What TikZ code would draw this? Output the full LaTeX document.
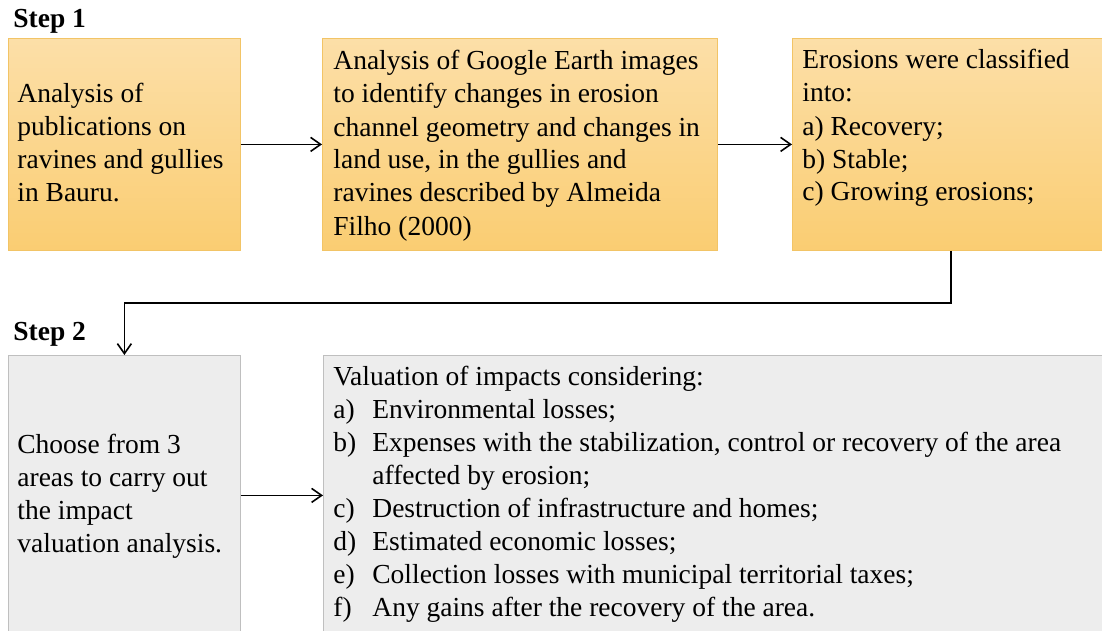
\documentclass[tikz,border=0pt]{standalone}
\usepackage{fontspec}
\setmainfont{Liberation Serif}
\usetikzlibrary{arrows.meta}
\definecolor{gtop}{HTML}{FCDFA8}
\definecolor{gbot}{HTML}{FACD72}
\definecolor{gline}{HTML}{F2C466}
\definecolor{sfill}{HTML}{EDEDED}
\definecolor{sline}{HTML}{BFBFBF}
% lines of a text block, hung from the baseline of the first one
\newcommand{\blk}[1]{\begin{tabular}[t]{@{}l@{}}#1\end{tabular}}
\tikzset{gb/.style  = {draw=gline, top color=gtop, bottom color=gbot, anchor=north west, inner sep=0pt},
         sb/.style  = {draw=sline, fill=sfill, anchor=north west, inner sep=0pt},
         tx/.style  = {anchor=base west, inner sep=0pt, font=\fontsize{13.75}{16.5}\selectfont},
         hd/.style  = {anchor=base west, inner sep=0pt, font=\fontsize{13.75}{16.5}\selectfont\bfseries},
         ln/.style  = {line width=0.8pt}}

\begin{document}
\begin{tikzpicture}[x=0.5pt, y=-0.5pt, >={Straight Barb[length=5pt,width=7pt]}]
    \clip (0,0) rectangle (1102,631);
    \fill[white] (0,0) rectangle (1102,631);
    % step 1
    \node[hd] (s1) at (13,28) {Step 1};
    \node[gb, minimum width=116pt, minimum height=106pt] (b1) at (8,38) {};
    \node[gb, minimum width=197.5pt, minimum height=106pt] (b2) at (322,38) {};
    \node[gb, minimum width=160pt, minimum height=106pt] (b3) at (792,38) {};
    \node[tx] (t1) at (17,103) {\blk{Analysis of\\publications on\\ravines and gullies\\in Bauru.}};
    \node[tx] (t2) at (333,70) {\blk{Analysis of Google Earth images\\to identify changes in erosion\\channel geometry and changes in\\land use, in the gullies and\\ravines described by Almeida\\Filho (2000)}};
    \node[tx] (t3) at (802,69) {\blk{Erosions were classified\\into:\\a) Recovery;\\b) Stable;\\c) Growing erosions;}};
    % step 2
    \node[hd] (s2) at (13,340) {Step 2};
    \node[sb, minimum width=116pt, minimum height=140pt] (b4) at (8,355) {};
    \node[sb, minimum width=392pt, minimum height=140pt] (b5) at (323,355) {};
    \node[tx] (t4) at (17,453) {\blk{Choose from 3\\areas to carry out\\the impact\\valuation analysis.}};
    \node[tx] (t5) at (333,385) {\begin{tabular}[t]{@{}p{16.5pt}@{\hspace{3pt}}l@{}}
      \multicolumn{2}{@{}l@{}}{Valuation of impacts considering:}\\
      a) & Environmental losses;\\
      b) & Expenses with the stabilization, control or recovery of the area\\
         & affected by erosion;\\
      c) & Destruction of infrastructure and homes;\\
      d) & Estimated economic losses;\\
      e) & Collection losses with municipal territorial taxes;\\
      f) & Any gains after the recovery of the area.
    \end{tabular}};
    % connectors
    \coordinate (turn) at (951,303);
    \draw[ln, ->] (b1) -- (b2);
    \draw[ln, ->] (b2) -- (b3);
    \draw[ln, ->] (b3.south -| turn) -- (turn) -| (b4.north);
    \draw[ln, ->] (b4) -- (b5);
\end{tikzpicture}
\end{document}
